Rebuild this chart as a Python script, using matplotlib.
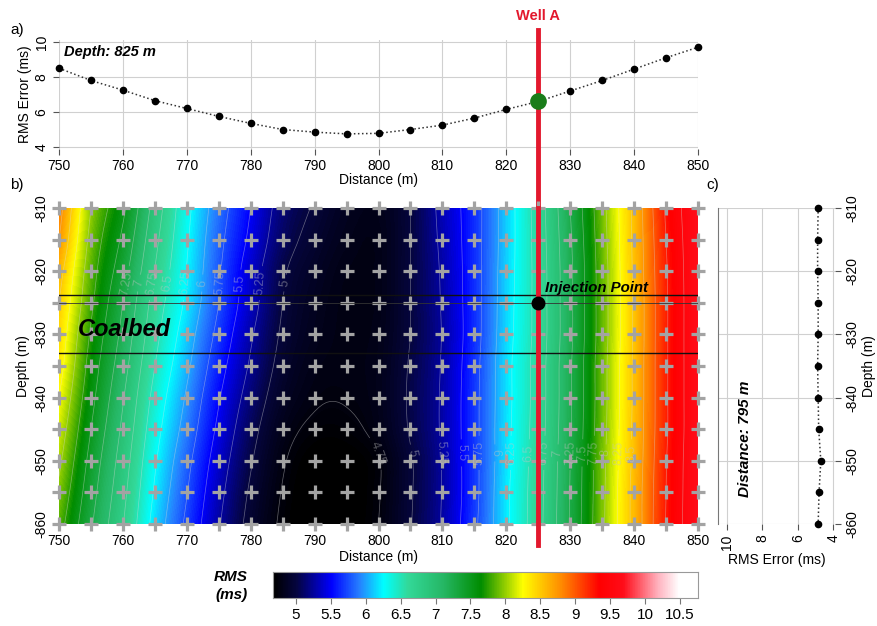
import numpy as np
import matplotlib
matplotlib.use('Agg')
import matplotlib.pyplot as plt
from matplotlib.colors import LinearSegmentedColormap, Normalize
import matplotlib.transforms as mtransforms
from matplotlib.lines import Line2D

plt.rcParams['font.family'] = ['Liberation Sans', 'DejaVu Sans']
plt.rcParams['axes.unicode_minus'] = False

# ---------------- data ----------------
distance = np.arange(750, 851, 5)
depth = np.arange(-810, -861, -5)

# panel a: RMS error along depth 825 m
rms_825 = [8.5, 7.8, 7.25, 6.65, 6.2, 5.75, 5.35, 5.0, 4.85, 4.75, 4.78,
           5.0, 5.25, 5.65, 6.15, 6.6, 7.2, 7.8, 8.45, 9.1, 9.7]
well_x = 825
inj_depth = -825

# panel c: RMS error along distance 795 m
rms_795 = [4.85, 4.88, 4.88, 4.85, 4.85, 4.88, 4.85, 4.82, 4.7, 4.8, 4.85]

# panel b: RMS grid (rows = depth, cols = distance)
rms_grid = np.array([
    [8.85, 8.0, 7.55, 6.9, 6.32, 5.87, 5.5, 5.15, 4.98, 4.85, 4.82, 5.0, 5.32, 5.65, 6.12, 6.62, 7.25, 7.92, 8.56, 9.28, 9.7],
    [8.75, 7.93, 7.45, 6.82, 6.28, 5.82, 5.45, 5.1, 4.93, 4.82, 4.8, 5.0, 5.3, 5.65, 6.12, 6.61, 7.22, 7.9, 8.55, 9.25, 9.7],
    [8.6, 7.86, 7.35, 6.74, 6.24, 5.78, 5.38, 5.03, 4.88, 4.79, 4.8, 5.0, 5.28, 5.65, 6.13, 6.6, 7.2, 7.88, 8.54, 9.23, 9.7],
    [8.5, 7.8, 7.25, 6.65, 6.2, 5.75, 5.35, 5.0, 4.85, 4.78, 4.8, 5.0, 5.27, 5.65, 6.14, 6.6, 7.2, 7.88, 8.53, 9.22, 9.7],
    [8.42, 7.72, 7.18, 6.58, 6.12, 5.68, 5.28, 4.97, 4.83, 4.78, 4.81, 5.0, 5.26, 5.65, 6.15, 6.6, 7.2, 7.88, 8.53, 9.22, 9.7],
    [8.35, 7.65, 7.1, 6.5, 6.05, 5.6, 5.22, 4.93, 4.8, 4.78, 4.82, 5.02, 5.27, 5.67, 6.17, 6.62, 7.22, 7.9, 8.54, 9.22, 9.7],
    [8.25, 7.58, 7.02, 6.42, 5.97, 5.52, 5.15, 4.88, 4.77, 4.76, 4.82, 5.03, 5.28, 5.68, 6.17, 6.62, 7.22, 7.9, 8.54, 9.22, 9.7],
    [8.15, 7.5, 6.95, 6.35, 5.9, 5.45, 5.08, 4.82, 4.72, 4.72, 4.8, 5.02, 5.28, 5.68, 6.18, 6.63, 7.23, 7.91, 8.55, 9.22, 9.7],
    [8.05, 7.42, 6.88, 6.28, 5.82, 5.38, 5.02, 4.77, 4.66, 4.66, 4.74, 4.98, 5.26, 5.68, 6.18, 6.65, 7.25, 7.93, 8.56, 9.24, 9.7],
    [7.95, 7.35, 6.82, 6.22, 5.76, 5.32, 4.97, 4.74, 4.64, 4.65, 4.74, 4.98, 5.26, 5.68, 6.2, 6.66, 7.26, 7.94, 8.58, 9.25, 9.7],
    [7.85, 7.28, 6.76, 6.16, 5.7, 5.27, 4.93, 4.72, 4.63, 4.65, 4.75, 4.99, 5.27, 5.7, 6.2, 6.67, 7.27, 7.95, 8.58, 9.26, 9.7],
])
coal_top, coal_bottom = -823.8, -833.0

cbar_min, cbar_max = 4.67, 10.76
cbar_ticks = [5, 5.5, 6, 6.5, 7, 7.5, 8, 8.5, 9, 9.5, 10, 10.5]
contour_levels = np.arange(4.75, 9.76, 0.25)

# ---------------- colormap ----------------
nodes = [
    (4.67, (0, 0, 0)),
    (5.0, (0.02, 0.02, 0.25)),
    (5.5, (0, 0, 1)),
    (5.9, (0.15, 0.5, 1)),
    (6.25, (0, 1, 1)),
    (6.6, (0.2, 0.85, 0.6)),
    (7.1, (0.15, 0.72, 0.4)),
    (7.65, (0, 0.55, 0)),
    (8.25, (1, 1, 0)),
    (8.8, (1, 0.55, 0)),
    (9.35, (1, 0, 0)),
    (9.7, (1, 0.05, 0.1)),
    (10.2, (1, 0.7, 0.75)),
    (10.5, (1, 1, 1)),
    (10.76, (1, 1, 1)),
]
cmap = LinearSegmentedColormap.from_list(
    'rms', [((v - cbar_min) / (cbar_max - cbar_min), c) for v, c in nodes])
norm = Normalize(cbar_min, cbar_max)


# smooth (Catmull-Rom) resampling of the grid for display
def cr_upsample(v, k):
    v = np.asarray(v, float)
    P = np.concatenate([2 * v[..., :1] - v[..., 1:2], v,
                        2 * v[..., -1:] - v[..., -2:-1]], axis=-1)
    t = np.arange(k) / k
    segs = []
    for i in range(v.shape[-1] - 1):
        p0, p1, p2, p3 = (P[..., i + j][..., None] for j in range(4))
        segs.append(0.5 * (2 * p1 + (-p0 + p2) * t + (2 * p0 - 5 * p1 + 4 * p2 - p3) * t ** 2
                           + (-p0 + 3 * p1 - 3 * p2 + p3) * t ** 3))
    segs.append(v[..., -1:])
    return np.concatenate(segs, axis=-1)


K = 8
fine = cr_upsample(rms_grid, K)            # along distance
fine = cr_upsample(fine.T, K).T            # along depth
fx = np.linspace(distance[0], distance[-1], fine.shape[1])
fy = np.linspace(depth[0], depth[-1], fine.shape[0])

# ---------------- figure ----------------
W, H = 878, 626
fig = plt.figure(figsize=(W / 100, H / 100), dpi=100)


def ax_px(x0, y0, x1, y1):
    return fig.add_axes([x0 / W, 1 - y1 / H, (x1 - x0) / W, (y1 - y0) / H])


grid_col = '#d0d0d0'
tick_kw = dict(labelsize=10, color='#555555', length=4)

# ---- panel a ----
ax_a = ax_px(59, 40.25, 698, 148.75)
ax_a.set_xlim(750, 850)
ax_a.set_ylim(3.9, 10.1)
for s in ax_a.spines.values():
    s.set_visible(False)
ax_a.set_xticks(np.arange(750, 851, 10))
ax_a.set_yticks([4, 6, 8, 10])
ax_a.grid(True, color=grid_col, lw=0.8)
ax_a.tick_params(**tick_kw)
for lab in ax_a.get_yticklabels():
    lab.set_rotation(90)
    lab.set_va('center')
ax_a.set_xlabel('Distance (m)', fontsize=10, labelpad=0)
ax_a.set_ylabel('RMS Error (ms)', fontsize=10, labelpad=2)
xa = np.array(distance)
ya = np.array(rms_825)
ax_a.plot(xa, ya, ':', color='#333333', lw=1.1, zorder=3, clip_on=False)
mask = xa != well_x
ax_a.plot(xa[mask], ya[mask], 'o', color='black', ms=4.5, zorder=4, clip_on=False)
trans_a = mtransforms.blended_transform_factory(ax_a.transData, fig.transFigure)
ax_a.add_line(Line2D([well_x, well_x], [1 - 30 / H, 1 - 208 / H], transform=trans_a,
                     color='#e3182d', lw=3.5, zorder=5, clip_on=False))
ax_a.plot(xa[~mask], ya[~mask], 'o', color='#1a7d1a', ms=11, zorder=6, clip_on=False)
ax_a.text(well_x, 1 - 16 / H, 'Well A', transform=trans_a, color='#e3182d',
          fontsize=10.5, fontweight='bold', ha='center', va='center')
ax_a.text(750.8, 9.45, 'Depth: 825 m', fontsize=10.5, fontweight='bold', style='italic',
          va='center', ha='left')

# ---- panel b ----
ax_b = ax_px(59, 208, 698, 524)
dxf = fx[1] - fx[0]
dyf = fy[0] - fy[1]
ax_b.imshow(fine, extent=[fx[0] - dxf / 2, fx[-1] + dxf / 2, fy[-1] - dyf / 2, fy[0] + dyf / 2],
            origin='upper', aspect='auto', cmap=cmap, norm=norm, interpolation='bilinear',
            interpolation_stage='data', zorder=1)
ax_b.set_xlim(750, 850)
ax_b.set_ylim(-860, -810)
cs = ax_b.contour(fx, fy, fine, levels=contour_levels,
                  colors=[(0.85, 0.85, 0.85)], linewidths=0.5, alpha=0.45, zorder=2)

# label positions along two depth rows
il = int(np.argmin(np.abs(fy + 822)))
ir = int(np.argmin(np.abs(fy + 849)))
row_l, row_r = fine[il], fine[ir]
half = len(fx) // 2
imin_r = int(np.argmin(row_r))
man = []
for lev in np.arange(5.0, 7.26, 0.25):
    xs = np.interp(lev, row_l[:half][::-1], fx[:half][::-1])
    man.append((xs, fy[il]))
for lev in np.arange(4.75, 8.51, 0.25):
    xs = np.interp(lev, row_r[imin_r:], fx[imin_r:])
    man.append((xs, fy[ir]))
ax_b.clabel(cs, inline=True, fontsize=9, colors='#c4c4c4', fmt='%g', manual=man)

for s in ax_b.spines.values():
    s.set_visible(False)
X, Y = np.meshgrid(distance, depth)
ax_b.plot(X.ravel(), Y.ravel(), '+', color='#a3a3a3', ms=10, mew=2.3, zorder=3,
          clip_on=False)
ax_b.axhline(coal_top, color='#111111', lw=1.0, zorder=4)
ax_b.axhline(coal_bottom, color='#111111', lw=1.0, zorder=4)
ax_b.axhline(inj_depth, color='#333333', lw=0.6, zorder=4)
trans_b = mtransforms.blended_transform_factory(ax_b.transData, fig.transFigure)
ax_b.add_line(Line2D([well_x, well_x], [1 - 208 / H, 1 - 545 / H], transform=trans_b,
                     color='#e3182d', lw=3.5, zorder=5, clip_on=False))
ax_b.plot([well_x], [inj_depth], 'o', color='black', ms=9, zorder=6)
ax_b.text(826.0, -822.6, 'Injection Point', fontsize=10.8, fontweight='bold',
          style='italic', ha='left', va='center', zorder=7)
ax_b.text(753, -829.2, 'Coalbed', fontsize=17, fontweight='bold', style='italic',
          ha='left', va='center', zorder=7)
ax_b.set_xticks(np.arange(750, 851, 10))
ax_b.set_yticks(np.arange(-810, -861, -10))
ax_b.tick_params(**tick_kw)
for lab in ax_b.get_yticklabels():
    lab.set_rotation(90)
    lab.set_va('center')
ax_b.set_xlabel('Distance (m)', fontsize=10, labelpad=1)
ax_b.set_ylabel('Depth (m)', fontsize=10, labelpad=3)

# ---- panel c ----
ax_c = ax_px(718, 208, 835, 524)
ax_c.set_xlim(10.5, 3.9)
ax_c.set_ylim(-860, -810)
for k, s in ax_c.spines.items():
    s.set_visible(k == 'left')
ax_c.spines['left'].set_color('#777777')
ax_c.set_xticks([10, 8, 6, 4])
ax_c.set_yticks(np.arange(-810, -861, -10))
ax_c.grid(True, color=grid_col, lw=0.8)
ax_c.yaxis.tick_right()
ax_c.yaxis.set_label_position('right')
ax_c.tick_params(**tick_kw)
ax_c.tick_params(axis='y', left=False)
for lab in ax_c.get_yticklabels():
    lab.set_rotation(90)
    lab.set_va('center')
for lab in ax_c.get_xticklabels():
    lab.set_rotation(90)
ax_c.set_xlabel('RMS Error (ms)', fontsize=10, labelpad=2)
ax_c.set_ylabel('Depth (m)', fontsize=10, rotation=90, labelpad=2)
ax_c.plot(rms_795, depth, ':', color='#333333', lw=1.1, zorder=3)
ax_c.plot(rms_795, depth, 'o', color='black', ms=4.5, zorder=4, clip_on=False)
ax_c.text(9.0, -846.5, 'Distance: 795 m', rotation=90, fontsize=11, fontweight='bold',
          style='italic', ha='center', va='center')

# ---- colorbar ----
cax = ax_px(273, 572, 698, 598)
grad = np.linspace(cbar_min, cbar_max, 512)[None, :]
cax.imshow(grad, extent=[cbar_min, cbar_max, 0, 1], aspect='auto', cmap=cmap, norm=norm)
cax.set_xlim(cbar_min, cbar_max)
cax.set_yticks([])
cax.set_xticks(cbar_ticks)
cax.set_xticklabels([f'{t:g}' for t in cbar_ticks])
cax.tick_params(axis='x', labelsize=11, color='#777777', length=4)
for s in cax.spines.values():
    s.set_color('#999999')
fig.text(248 / W, 1 - 586 / H, 'RMS\n(ms)', fontsize=11, fontweight='bold',
         style='italic', ha='right', va='center', linespacing=1.3)

# panel letters
fig.text(10 / W, 1 - 30 / H, 'a)', fontsize=11, va='center')
fig.text(10 / W, 1 - 185 / H, 'b)', fontsize=11, va='center')
fig.text(706 / W, 1 - 185 / H, 'c)', fontsize=11, va='center')

fig.savefig('out.png', dpi=100)
